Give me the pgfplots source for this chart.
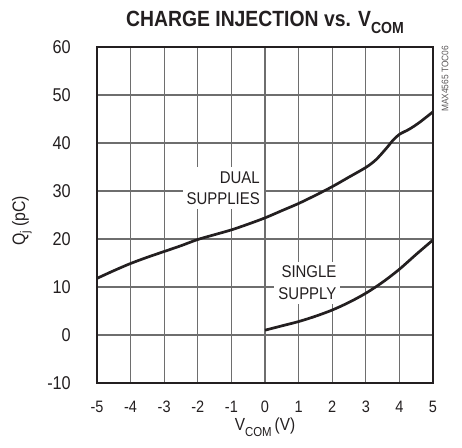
\documentclass[border=0pt]{standalone}
\usepackage{pgfplots}
\pgfplotsset{compat=1.18}
\usepackage{fontspec}
\setmainfont{Liberation Sans}[FakeStretch=0.88]
\definecolor{ink}{HTML}{231F20}
\definecolor{gridgray}{RGB}{110,110,110}
\begin{document}
\begin{tikzpicture}
\begin{axis}[
  name=ax,
  scale only axis,
  width=336pt, height=336pt,
  xmin=-5, xmax=5, ymin=-10, ymax=60,
  xtick={-5,-4,...,5},
  ytick={-10,0,10,20,30,40,50,60},
  grid=major,
  major grid style={line width=1.1pt, color=gridgray},
  axis line style={line width=2.4pt, color=ink},
  tick style={draw=none},
  /pgf/number format/assume math mode=true,
  xticklabel style={font=\fontsize{16.5}{18}\selectfont, text=ink, anchor=base, inner sep=0pt, yshift=-30pt},
  yticklabel style={font=\fontsize{18.5}{20}\selectfont, text=ink, anchor=east, inner sep=0pt, xshift=-26pt},
  clip=false,
]
\addplot[line width=2.7pt, color=ink, smooth] coordinates {
(-5,11.8) (-4.5,13.4) (-4,14.9) (-3.5,16.2) (-3,17.4) (-2.5,18.6) (-2,19.9)
(-1.5,20.9) (-1,21.9) (-0.5,23.1) (0,24.4) (0.5,25.9) (1,27.4) (1.5,29.1)
(2,30.9) (2.5,32.9) (3,34.9) (3.3,36.5) (3.6,38.8) (3.8,40.5) (4,41.8)
(4.3,42.9) (4.6,44.3) (5,46.5)
};
\addplot[line width=2.7pt, color=ink, smooth] coordinates {
(0,1.0) (0.5,1.9) (1,2.8) (1.5,3.9) (2,5.2) (2.5,6.8) (3,8.7) (3.5,11.0)
(4,13.7) (4.5,16.8) (5,19.8)
};
\node[fill=white, align=right, anchor=east, inner sep=4pt, text=ink,
  font=\fontsize{17}{21.7}\selectfont] at (axis cs:-0.03,30.6) {DUAL\\SUPPLIES};
\node[fill=white, align=right, anchor=east, inner sep=4pt, text=ink,
  font=\fontsize{17}{21.7}\selectfont] at (axis cs:2.25,10.9) {SINGLE\\SUPPLY};
\end{axis}
\node[anchor=base, text=ink, font=\bfseries\fontsize{22}{24}\selectfont]
  at ([yshift=20.3pt]ax.north) {CHARGE INJECTION vs. V\raisebox{-6.6pt}{\fontsize{16}{16}\selectfont COM}};
\node[anchor=base, text=ink, font=\fontsize{17.5}{19}\selectfont]
  at ([yshift=-48pt]ax.south) {V\raisebox{-5.5pt}{\fontsize{13}{14}\selectfont COM}\,(V)};
\node[rotate=90, anchor=center, text=ink, font=\fontsize{18}{20}\selectfont]
  at ([xshift=-75pt, yshift=-6pt]ax.west) {Q\raisebox{-4pt}{\fontsize{12.5}{13}\selectfont j} (pC)};
\node[rotate=90, anchor=center, text=ink!75, font=\fontsize{9.5}{10}\selectfont]
  at ([xshift=12pt, yshift=-32pt]ax.north east) {MAX4565 TOC06};
\pgfresetboundingbox
\useasboundingbox ([xshift=-97pt,yshift=-65pt]ax.south west) rectangle ([xshift=29pt,yshift=47pt]ax.north east);
\end{tikzpicture}
\end{document}
